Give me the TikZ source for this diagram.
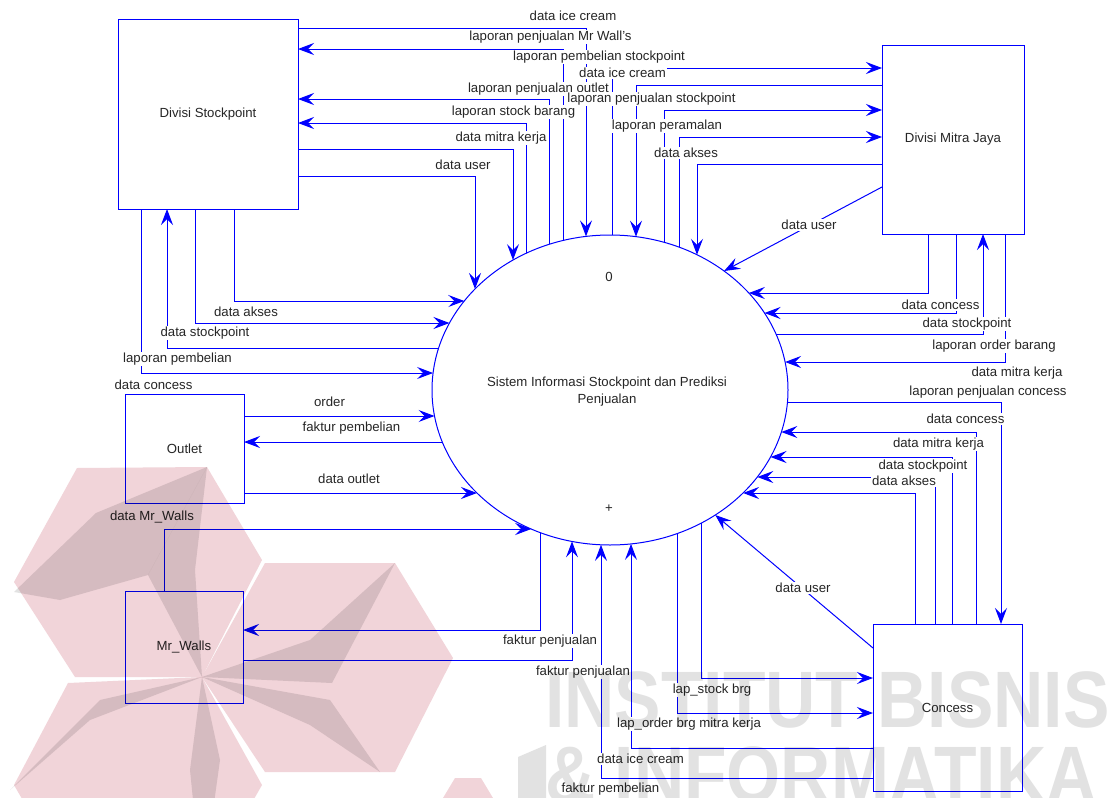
\documentclass[tikz,border=0pt]{standalone}
\usepackage{fontspec}
\setmainfont{Liberation Sans}
\usetikzlibrary{shapes.geometric,arrows.meta}
\definecolor{flowblue}{RGB}{0,0,255}
\definecolor{txt}{RGB}{38,38,38}
\definecolor{wmgray}{RGB}{226,226,226}
\definecolor{wmpink}{RGB}{241,212,217}
\newcommand{\EtopAt}[2]{\coordinate (#1) at ({#2},{390-155*sqrt(1-((#2-610)/178)^2)});}
\newcommand{\EbotAt}[2]{\coordinate (#1) at ({#2},{390+155*sqrt(1-((#2-610)/178)^2)});}
\newcommand{\ErightAt}[2]{\coordinate (#1) at ({610+178*sqrt(1-((#2-390)/155)^2)},{#2});}
\newcommand{\EleftAt}[2]{\coordinate (#1) at ({610-178*sqrt(1-((#2-390)/155)^2)},{#2});}
\begin{document}
\begin{tikzpicture}[x=1pt,y=-1pt,
  entity/.style={draw=flowblue, line width=1pt, inner sep=0pt, outer sep=0pt, font=\fontsize{13.2}{15}\selectfont, text=txt},
  flow/.style={draw=flowblue, line width=1pt, -{Stealth[length=16pt,width=12pt,inset=6pt]}},
  lbl/.style={font=\fontsize{13.2}{15}\selectfont, text=txt, inner sep=1pt, fill=white},
  wm/.style={font=\fontsize{80}{80}\selectfont\bfseries, text=wmgray, inner sep=0pt}
]
\useasboundingbox (0,0) rectangle (1114,798);
\fill[white] (0,0) rectangle (1114,798);

% entities
\node[entity, minimum width=180pt, minimum height=190pt] (ds) at (208,114) {Divisi Stockpoint};
\node[entity, minimum width=142pt, minimum height=189pt] (mj) at (953,139.5) {Divisi Mitra Jaya};
\node[entity, minimum width=119pt, minimum height=109pt] (outlet) at (184.5,448.5) {Outlet};
\node[entity, minimum width=118pt, minimum height=112pt] (mw) at (184,647) {Mr\_Walls};
\node[entity, minimum width=149pt, minimum height=167pt] (con) at (947.5,707.5) {Concess};
\node[draw=flowblue, line width=1pt, ellipse, minimum width=356pt, minimum height=310pt, inner sep=0pt, outer sep=0pt] (sys) at (610,390) {};
\node[lbl, fill=none] (sysnum) at (609,277) {0};
\node[lbl, fill=none, align=center, font=\fontsize{13.2}{17}\selectfont] (systxt) at (607,392) {Sistem Informasi Stockpoint dan Prediksi\\Penjualan};
\node[lbl, fill=none] (sysplus) at (609,509) {+};

% points on the process border
\EtopAt{t475}{475}\EtopAt{t513}{513}\EtopAt{t526}{526}\EtopAt{t549}{549}
\EtopAt{t563}{563}\EtopAt{t586}{586}\EtopAt{t612}{612}\EtopAt{t636}{636}
\EtopAt{t664}{664}\EtopAt{t679}{679}\EtopAt{t697}{697}
\ErightAt{r271}{271}\ErightAt{r293}{293}\ErightAt{r313}{313}\ErightAt{r334}{334}
\ErightAt{r362}{362}\ErightAt{r402}{402}\ErightAt{r432}{432}\ErightAt{r457}{457}
\ErightAt{r477}{477}\ErightAt{r493}{493}\ErightAt{r515}{515}
\EbotAt{b701}{701}\EbotAt{b677}{677}\EbotAt{b631}{631}\EbotAt{b601}{601}
\EbotAt{b572}{572}\EbotAt{b540}{540}
\EleftAt{l301}{301}\EleftAt{l323}{323}\EleftAt{l348}{348}\EleftAt{l373}{373}
\EleftAt{l416}{416}\EleftAt{l442}{442}\EleftAt{l493}{493}\EleftAt{l529}{529}

% flows: Divisi Stockpoint / Divisi Mitra Jaya (top)
\draw[flow] (ds.east |- 0,28) -| (t586);
\draw[flow] (t563) |- (ds.east |- 0,49);
\draw[flow] (t612) |- (mj.west |- 0,68);
\draw[flow] (mj.west |- 0,85) -| (t636);
\draw[flow] (t549) |- (ds.east |- 0,99);
\draw[flow] (t664) |- (mj.west |- 0,110);
\draw[flow] (t526) |- (ds.east |- 0,123);
\draw[flow] (t679) |- (mj.west |- 0,137);
\draw[flow] (ds.east |- 0,149) -| (t513);
\draw[flow] (mj.west |- 0,164) -| (t697);
\draw[flow] (ds.east |- 0,176) -| (t475);
\draw[flow] (mj.west |- 0,187) -- (r271);
% Divisi Mitra Jaya (bottom side)
\draw[flow] (mj.south -| 928,0) |- (r293);
\draw[flow] (mj.south -| 956,0) |- (r313);
\draw[flow] (r334) -| (mj.south -| 983,0);
\draw[flow] (mj.south -| 1005,0) |- (r362);
% Concess
\draw[flow] (r402) -| (con.north -| 1001,0);
\draw[flow] (con.north -| 976,0) |- (r432);
\draw[flow] (con.north -| 952,0) |- (r457);
\draw[flow] (con.north -| 935,0) |- (r477);
\draw[flow] (con.north -| 915,0) |- (r493);
\draw[flow] (con.west |- 0,648) -- (r515);
\draw[flow] (b701) |- (con.west |- 0,678);
\draw[flow] (b677) |- (con.west |- 0,713);
\draw[flow] (con.west |- 0,748) -| (b631);
\draw[flow] (con.west |- 0,778) -| (b601);
% Mr_Walls
\draw[flow] (mw.east |- 0,660) -| (b572);
\draw[flow] (b540) |- (mw.east |- 0,630);
\draw[flow] (mw.north -| 164,0) |- (l529);
% Outlet
\draw[flow] (outlet.east |- 0,416) -- (l416);
\draw[flow] (l442) -- (outlet.east |- 0,442);
\draw[flow] (outlet.east |- 0,493) -- (l493);
% Divisi Stockpoint (bottom side)
\draw[flow] (ds.south -| 234,0) |- (l301);
\draw[flow] (ds.south -| 195,0) |- (l323);
\draw[flow] (l348) -| (ds.south -| 167,0);
\draw[flow] (ds.south -| 141,0) |- (l373);

% labels
\node[lbl] (n1) at (573,16) {data ice cream};
\node[lbl] (n2) at (550.5,37) {laporan penjualan Mr Wall's};
\node[lbl] (n3) at (599,57) {laporan pembelian stockpoint};
\node[lbl] (n4) at (622.5,73) {data ice cream};
\node[lbl] (n5) at (538.5,89) {laporan penjualan outlet};
\node[lbl] (n6) at (651.5,99) {laporan penjualan stockpoint};
\node[lbl] (n7) at (513.5,112) {laporan stock barang};
\node[lbl] (n8) at (667,126) {laporan peramalan};
\node[lbl] (n9) at (501,138) {data mitra kerja};
\node[lbl] (n10) at (686,153) {data akses};
\node[lbl] (n11) at (463,165) {data user};
\node[lbl] (n12) at (809,225) {data user};
\node[lbl] (n13) at (940.5,305) {data concess};
\node[lbl] (n14) at (967,324) {data stockpoint};
\node[lbl] (n15) at (994,346) {laporan order barang};
\node[lbl] (n16) at (1017,373) {data mitra kerja};
\node[lbl] (n17) at (988,392) {laporan penjualan concess};
\node[lbl] (n18) at (965.5,419) {data concess};
\node[lbl] (n19) at (938.5,444) {data mitra kerja};
\node[lbl] (n20) at (923,466) {data stockpoint};
\node[lbl] (n21) at (904,481) {data akses};
\node[lbl] (n22) at (803,588) {data user};
\node[lbl] (n23) at (712,690) {lap\_stock brg};
\node[lbl] (n24) at (689,724) {lap\_order brg mitra kerja};
\node[lbl] (n25) at (640.5,759) {data ice cream};
\node[lbl] (n26) at (610.5,789) {faktur pembelian};
\node[lbl] (n27) at (550,641) {faktur penjualan};
\node[lbl] (n28) at (583,672) {faktur penjualan};
\node[lbl] (n29) at (246,312) {data akses};
\node[lbl] (n30) at (205,333) {data stockpoint};
\node[lbl] (n31) at (177.5,359) {laporan pembelian};
\node[lbl] (n32) at (153.5,385) {data concess};
\node[lbl] (n33) at (329.5,402) {order};
\node[lbl] (n34) at (351.5,428) {faktur pembelian};
\node[lbl] (n35) at (349,479) {data outlet};
\node[lbl] (n36) at (152,517) {data Mr\_Walls};

% watermark
\begin{scope}[blend mode=multiply]
% logo (approximate)
\fill[wmpink] (14,582) -- (77,468) -- (207,467) -- (262,560) -- (202,677) -- (75,677) -- cycle;
\fill[wmpink] (265,563) -- (395,563) -- (453,658) -- (395,772) -- (265,772) -- (202,677) -- cycle;
\fill[wmpink] (14,785) -- (68,683) -- (202,677) -- (262,785) -- (202,890) -- (75,890) -- cycle;
\fill[wmpink] (443,798) -- (455,778) -- (481,778) -- (493,798) -- cycle;
\fill[wmgray] (14,592) -- (96,513) -- (207,467) -- (148,575) -- (60,600) -- cycle;
\fill[wmgray] (207,467) -- (148,575) -- (202,677) -- (195,570) -- cycle;
\fill[wmgray] (202,677) -- (332,683) -- (395,563) -- (310,640) -- cycle;
\fill[wmgray] (202,677) -- (330,700) -- (380,772) -- (310,725) -- cycle;
\fill[wmgray] (202,677) -- (220,760) -- (202,890) -- (190,770) -- cycle;
\fill[wmgray] (202,677) -- (90,720) -- (10,790) -- (100,700) -- cycle;
\fill[wmgray] (518,757) -- (546,745) -- (546,798) -- (518,798) -- cycle;
\node[wm, anchor=west, xscale=0.87] (wm1) at (545,700) {INSTITUT BISNIS};
\node[wm, anchor=west, xscale=0.87] (wm2) at (545,775) {\& INFORMATIKA};
\end{scope}
\end{tikzpicture}
\end{document}
